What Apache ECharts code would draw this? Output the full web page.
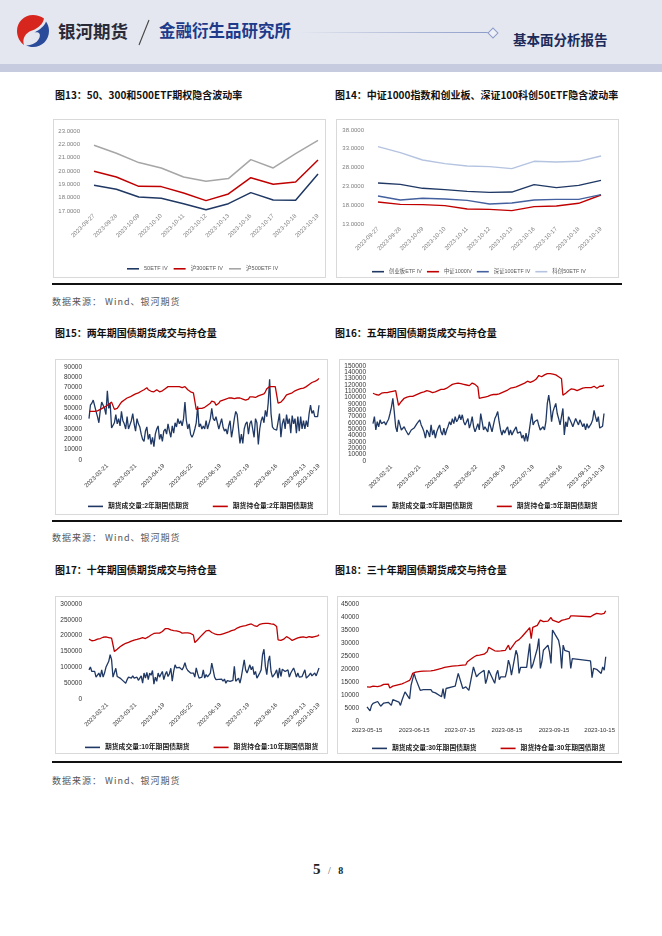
<!DOCTYPE html>
<html><head><meta charset="utf-8">
<script src="https://cdn.jsdelivr.net/npm/echarts@6.0.0/dist/echarts.min.js"></script>
<style>
body{margin:0;width:662px;height:936px;position:relative;background:#fff;overflow:hidden;font-family:'Noto Sans CJK SC',sans-serif}
.a{position:absolute;white-space:nowrap}
.title{font-size:10px;font-weight:bold;color:#111;line-height:14px;height:14px}
.box{position:absolute;border:1px solid #d9d9d9;box-sizing:border-box}
.chart{position:absolute}
.rule{position:absolute;left:52px;width:570px;height:2px;background:#111}
.src{font-size:9px;color:#555;letter-spacing:1px;line-height:12px}
</style></head>
<body>
<div class="a" style="left:0;top:0;width:662px;height:64px;background:#e4e7ef"></div>
<div class="a" style="left:0;top:64px;width:662px;height:8px;background:#c6cbe0"></div>
<svg class="a" style="left:16px;top:14px" width="34" height="34" viewBox="0 0 34 34">
 <path d="M17,1 C8,1 1,8 1,17 C1,23 4,28 8,31 C6,25 9,19 16,16.5 C22,14.5 27,10 28,4.5 C25,2.3 21,1 17,1 Z" fill="#d7261e"/>
 <path d="M30,7.5 C32,10.5 33,13.5 33,17 C33,26 26,33 17,33 C14.5,33 12,32.4 10,31.5 C17,31 22,28 23.5,23.5 C25,19 22,17.5 18.5,18.5 C24,15.5 28.5,12 30,7.5 Z" fill="#2a4a9a"/>
</svg>
<div class="a" style="left:58px;top:19px;font-size:17.5px;font-weight:bold;color:#2a2a36;line-height:24px">银河期货</div>
<svg class="a" style="left:136px;top:18px" width="16" height="30"><line x1="13" y1="2" x2="3" y2="27" stroke="#444" stroke-width="1.1"/></svg>
<div class="a" style="left:159px;top:19px;font-size:16.5px;font-weight:bold;color:#1e3a8a;line-height:22px">金融衍生品研究所</div>
<div class="a" style="left:298px;top:32px;width:191px;height:1px;background:linear-gradient(to right,rgba(150,165,205,0),#8c9bc9)"></div>
<div class="a" style="left:489px;top:29px;width:6px;height:6px;border:1px solid #8c9bc9;background:#eef0f7;transform:rotate(45deg)"></div>
<div class="a" style="left:513px;top:30px;font-size:13.5px;font-weight:bold;color:#1c2b5a;line-height:18px">基本面分析报告</div>

<div class="a title" style="left:55px;top:88px">图13：50、300和500ETF期权隐含波动率</div>
<div class="a title" style="left:335px;top:88px">图14：中证1000指数和创业板、深证100科创50ETF隐含波动率</div>
<div class="box" style="left:53px;top:119px;width:273px;height:159px"></div>
<div class="box" style="left:336px;top:119px;width:283px;height:159px"></div>
<div id="c13" class="chart" style="left:53px;top:119px;width:272px;height:158px"></div>
<div id="c14" class="chart" style="left:336px;top:119px;width:283px;height:158px"></div>
<div class="rule" style="top:283px"></div>
<div class="a src" style="left:52px;top:296px">数据来源： Wind、银河期货</div>

<div class="a title" style="left:55px;top:326px">图15：两年期国债期货成交与持仓量</div>
<div class="a title" style="left:335px;top:326px">图16：五年期国债期货成交与持仓量</div>
<div class="box" style="left:55px;top:359px;width:273px;height:156px"></div>
<div class="box" style="left:339px;top:359px;width:280px;height:156px"></div>
<div id="c15" class="chart" style="left:55px;top:359px;width:272px;height:155px"></div>
<div id="c16" class="chart" style="left:339px;top:359px;width:279px;height:155px"></div>
<div class="rule" style="top:520px"></div>
<div class="a src" style="left:52px;top:532px">数据来源： Wind、银河期货</div>

<div class="a title" style="left:55px;top:563px">图17：十年期国债期货成交与持仓量</div>
<div class="a title" style="left:335px;top:563px">图18：三十年期国债期货成交与持仓量</div>
<div class="box" style="left:55px;top:596px;width:273px;height:158px"></div>
<div class="box" style="left:337px;top:596px;width:282px;height:158px"></div>
<div id="c17" class="chart" style="left:55px;top:596px;width:272px;height:157px"></div>
<div id="c18" class="chart" style="left:337px;top:596px;width:281px;height:157px"></div>
<div class="rule" style="top:761px"></div>
<div class="a src" style="left:52px;top:775px">数据来源： Wind、银河期货</div>

<div class="a" style="left:313px;top:860px;font-family:'Liberation Serif',serif;color:#222;line-height:18px"><span style="font-size:15px;font-weight:bold">5</span><span style="font-size:10px;color:#555"> &nbsp; / &nbsp; </span><span style="font-size:10px;font-weight:bold">8</span></div>

<script>
// ---------- data ----------
const ivDates = ['2023-09-27','2023-09-28','2023-10-09','2023-10-10','2023-10-11','2023-10-12','2023-10-13','2023-10-16','2023-10-17','2023-10-18','2023-10-19'];
const iv50  = [18.93,18.63,18.05,17.95,17.55,17.10,17.55,18.38,17.83,17.80,19.78];
const iv300 = [19.98,19.55,18.85,18.83,18.35,17.78,18.28,19.50,19.00,19.18,20.83];
const iv500 = [21.93,21.33,20.63,20.23,19.55,19.23,19.43,20.85,20.23,21.30,22.30];
const ivCyb   = [23.90,23.55,22.49,22.13,21.69,21.42,21.50,23.46,22.66,23.28,24.60];
const iv1000  = [18.85,18.23,18.14,17.88,16.99,16.90,16.55,17.61,17.79,18.50,20.71];
const ivSz100 = [20.45,19.38,19.83,19.65,19.29,18.32,18.59,19.38,19.56,19.56,20.80];
const ivKc50  = [33.57,31.97,30.02,29.05,28.43,28.25,27.72,29.67,29.49,29.67,31.09];

const holidays = ['2023-04-05','2023-05-01','2023-05-02','2023-05-03','2023-06-22','2023-06-23','2023-09-29','2023-10-02','2023-10-03','2023-10-04','2023-10-05','2023-10-06'];
function tradingDays(start, end){
  const out=[]; const d=new Date(start+'T00:00:00Z'); const e=new Date(end+'T00:00:00Z');
  while(d<=e){ const wd=d.getUTCDay(); const s=d.toISOString().slice(0,10);
    if(wd!==0&&wd!==6&&holidays.indexOf(s)<0) out.push(s); d.setUTCDate(d.getUTCDate()+1); }
  return out;
}
const bondTail = ['2023-09-15','2023-09-19','2023-09-21','2023-09-25','2023-09-27','2023-10-10','2023-10-12','2023-10-16','2023-10-18','2023-10-19'];
const bondDates = tradingDays('2023-02-02','2023-09-13').concat(bondTail);
const bondTicks = ['2023-02-21','2023-03-21','2023-04-19','2023-05-22','2023-06-19','2023-07-19','2023-08-16','2023-09-13','2023-10-19'];

// values in thousands of contracts
const vol2 = [40,53,55,58,59,47,42,36,48,56,55,50,44,67,50,55,31,30,36,44,
 35,40,33,47,38,35,30,42,30,34,38,45,35,28,40,35,32,25,20,18,
 28,32,20,25,15,22,13,25,30,33,20,25,18,28,30,25,35,28,22,33,
 26,36,32,40,35,38,33,40,56,38,30,35,25,22,25,30,36,52,32,35,
 30,33,30,38,30,35,40,50,40,38,42,36,30,35,40,32,28,30,25,33,
 38,22,30,40,47,44,30,16,25,16,30,35,37,25,35,38,30,22,40,36,
 15,30,38,42,36,48,42,55,78,45,32,30,29,29,30,45,22,35,40,30,
 44,35,40,26,43,35,40,26,42,28,42,30,38,30,38,32,45,53,45,48,
 42,43,42,53];
const oi2 = [47,47.5,47,47.5,47,47,47.5,48,49,50,50.5,51,52,53,54,55,56,57,
 49,49.5,50,52,54,56,57,58,59,60,60.5,61,62,62.5,63,64,64.5,65,66,66.5,67,68,69,70,
 68,67,66.5,66,66,67,68,67,66,66,67,68,69,70,71,72,71,70,71,70,71,72,71,70,70,69,71,72,68,67,66,66,65,64,
 49,48,50,49,50,51,51,52,53,54,55,57,58,56,53,54,55,57,58,58,59,59,
 59.5,60,59.5,60,60,59.5,60,60,59.5,60,59.5,59,58.5,58,58,59,
 61,62,61,60,60.5,61,62,62,63,63,64,66,69,70,71,71,71,70.5,71,71,
 55,55.5,56,57,59,61,63,63,64,64.5,65,66,67,67.5,68,69,69,69,69.5,70,
 71,72,73,74,75,75.5,76,77,77.5,79];
const vol5 = [59,70,49,62,54,65,59,60,62,57,62,66,75,85,99,78,54,46,65,57,
 49,52,54,49,52,41,45,49,46,52,53,59,62,65,57,52,46,36,49,45,
 38,57,41,49,36,46,52,57,46,41,52,41,49,55,62,57,67,59,70,62,
 66,73,65,73,62,57,62,67,52,59,70,54,46,52,59,49,75,62,49,54,
 50,46,62,54,46,57,67,72,78,62,49,41,49,44,50,54,41,49,41,46,
 50,54,44,41,46,36,41,31,44,31,44,60,75,57,62,59,65,56,49,46,
 54,49,62,91,104,88,62,78,85,91,75,67,57,54,83,41,62,54,70,65,
 60,54,57,67,62,57,65,60,54,59,49,59,52,55,59,65,80,70,62,70,
 52,54,55,75];
const oi5 = [107,106,105,104,104,105,107,109,108,107,108,108,109,109,110,110,111,112,88,91,
 94,97,99,100,101,102,102,102,102,103,104,105,106,107,108,109,109,110,111,112,
 110,108,108,109,109,110,111,112,113,113,113,113,115,117,118,120,121,122,122,123,
 123,122,122,121,121,121,120,120,119,119,123,122,121,121,117,99,100,100,101,101,
 102,102,103,104,104,105,105,105,105,106,107,108,109,110,111,112,113,115,115,116,
 116,117,117,119,120,121,122,123,125,126,125,124,125,126,127,129,130,135,134,133,
 135,136,137,138,138,138,137,137,136,136,135,133,130,130,104,105,107,109,111,113,
 114,114,113,111,111,112,113,114,115,116,116,116,116,116,116,117,118,115,115,116,
 118,117,118,120];
const vol10 = [92,101,87,82,87,69,75,82,69,92,69,82,100,110,119,140,124,69,69,97,
 71,71,66,61,58,56,50,61,69,63,66,73,66,63,69,59,65,73,50,82,
 66,84,61,82,75,90,47,69,56,82,69,78,87,61,77,87,71,80,97,56,
 87,108,98,94,100,103,92,101,115,98,90,87,82,77,82,69,98,80,66,69,
 69,92,66,77,70,66,82,113,92,69,61,66,62,59,63,56,63,50,58,61,
 56,61,59,103,56,60,66,50,71,69,124,92,82,95,108,92,103,77,87,66,
 74,82,92,140,157,103,77,119,136,87,69,75,82,92,66,98,71,94,90,87,
 82,92,69,82,77,98,85,69,82,69,73,71,69,92,66,69,75,82,73,69,
 82,73,70,98];
const oi10 = [189,186,184,184,185,187,189,190,191,192,195,197,196,195,194,193,192,194,150,153,
 157,162,165,168,171,173,176,177,179,180,183,185,186,187,188,190,191,193,194,193,
 191,193,196,198,202,205,207,208,208,208,208,210,213,218,222,224,222,220,218,216,
 216,216,215,214,213,210,208,208,209,210,209,208,207,206,202,178,182,187,192,197,
 201,206,210,215,220,217,213,210,207,206,204,203,203,203,204,206,208,209,210,212,
 215,216,217,218,221,224,226,228,229,230,231,232,234,235,236,237,234,232,230,229,
 232,236,237,238,239,239,239,239,238,237,236,236,232,229,187,186,185,187,189,193,
 197,194,192,188,185,187,189,191,193,194,195,197,196,194,194,196,197,196,195,196,
 197,197,199,203];

const dates30 = tradingDays('2023-05-15','2023-10-19');
const ticks30 = ['2023-05-15','2023-06-15','2023-07-15','2023-08-15','2023-09-15','2023-10-15'];
const vol30 = [5.4,5.7,3.9,6.0,6.8,7.5,8.0,5.7,5.4,6.9,7.2,7.1,6.0,
 8.2,8.0,7.3,6.0,8.0,8.2,11.2,8.5,13.8,13.1,18.3,16.3,11.8,12.1,12.1,12.1,11.2,11.0,10.8,10.3,
 9.3,12.5,8.6,12.5,12.9,13.1,13.3,13.4,13.1,18.3,12.5,13.0,13.1,12.5,11.8,20.8,18.9,17.0,17.5,18.3,19.5,
 14.4,16.3,19.5,20.2,14.5,18.0,19.5,15.9,17.0,17.0,19.5,23.4,21.5,17.6,27.2,25.3,18.3,20.6,20.6,20.6,25.3,29.8,20.2,
 21.5,27.9,31.7,20.2,22.8,27.2,29.2,26.6,22.1,35.0,34.0,31.0,27.9,20.2,29.2,27.2,26.6,20.2,24.0,23.8,
 23.1,16.7,20.2,20.0,19.9,18.3,20.8,19.5,24.7];
const oi30 = [13.1,13.1,13.0,13.2,13.4,13.2,13.1,13.5,13.8,14.1,14.2,12.7,13.2,
 13.4,13.6,14.0,14.1,14.3,14.4,14.8,15.6,16.7,18.3,18.5,18.8,19.1,19.2,19.2,19.3,19.4,19.5,19.7,19.8,
 20.2,20.4,20.6,20.7,20.8,21.1,21.1,21.2,21.2,21.3,21.5,21.6,21.6,22.8,23.2,24.5,24.9,25.2,25.3,25.3,25.7,
 26.0,26.6,28.3,27.9,27.0,26.9,26.9,27.0,27.0,27.2,27.2,29.2,27.4,28.0,30.6,31.0,31.3,32.0,32.5,34.5,35.2,35.9,31.7,
 36.0,36.8,37.3,38.8,38.5,38.2,38.4,38.2,39.8,38.8,38.5,37.9,38.6,38.7,38.8,39.0,39.5,40.4,40.4,40.4,
 40.1,40.2,40.8,41.4,41.4,41.1,41.2,41.4,42.4];

// ---------- charts ----------
const F = "'Liberation Sans','Noto Sans CJK SC',sans-serif";
const NAVY='#1f3864', RED='#c00000';
function line(name, data, color, w){ return {name, type:'line', data, symbol:'none', lineStyle:{color, width:w||1.3}, itemStyle:{color}, animation:false}; }

function ivOption(grid, legendPos, ymin, ymax, yint, series, lg){
  return {
    animation:false,
    grid,
    legend:Object.assign({icon:'rect', itemWidth:lg.iw, itemHeight:1.6, itemGap:lg.gap, width:400, textStyle:{fontSize:lg.fs, color:'#595959', fontFamily:F}}, legendPos),
    xAxis:{type:'category', data:ivDates, boundaryGap:false, axisLine:{show:false}, axisTick:{show:false},
      axisLabel:{rotate:45, fontSize:6, color:'#7f7f7f', margin:4, interval:0, fontFamily:F}},
    yAxis:{type:'value', min:ymin, max:ymax, interval:yint, splitLine:{show:false}, axisLine:{show:false}, axisTick:{show:false},
      axisLabel:{formatter:v=>v.toFixed(4), fontSize:6, color:'#7f7f7f', margin:14, fontFamily:F}},
    series
  };
}
echarts.init(document.getElementById('c13')).setOption(ivOption(
  {left:41, right:7, top:12, bottom:66}, {left:69, top:142}, 17, 23, 1,
  [line('50ETF IV', iv50, NAVY, 1.5), line('沪300ETF IV', iv300, RED, 1.5), line('沪500ETF IV', iv500, '#a6a6a6', 1.5)],
  {iw:12, gap:6, fs:5.6}));
echarts.init(document.getElementById('c14')).setOption(ivOption(
  {left:42, right:18, top:11, bottom:53}, {left:31, top:145}, 13, 38, 5,
  [line('创业板ETF IV', ivCyb, NAVY, 1.4), line('中证1000IV', iv1000, RED, 1.4), line('深证100ETF IV', ivSz100, '#44609e', 1.4), line('科创50ETF IV', ivKc50, '#b4c3e0', 1.4)],
  {iw:12, gap:5, fs:5.4}));

function bondOption(grid, legendPos, ymax, yint, volName, oiName, vol, oi){
  return {
    animation:false,
    grid,
    legend:Object.assign({icon:'rect', itemWidth:15, itemHeight:1.6, itemGap:24, width:400, textStyle:{fontSize:6.8, color:'#222', fontWeight:'bold', fontFamily:F}}, legendPos),
    xAxis:{type:'category', data:bondDates, boundaryGap:false, axisLine:{show:false}, axisTick:{show:false},
      axisLabel:{rotate:45, fontSize:6, color:'#333', margin:5, fontFamily:F, interval:(i,v)=>bondTicks.indexOf(v)>=0}},
    yAxis:{type:'value', min:0, max:ymax, interval:yint, splitLine:{show:false}, axisLine:{show:false}, axisTick:{show:false},
      axisLabel:{fontSize:6.5, color:'#333', margin:7, fontFamily:F, formatter:v=>String(v)}},
    series:[line(volName, vol.map(v=>v*1000), NAVY, 1.3), line(oiName, oi.map(v=>v*1000), RED, 1.3)]
  };
}
echarts.init(document.getElementById('c15')).setOption(bondOption(
  {left:34, right:8, top:8, bottom:54}, {left:28, top:139}, 90000, 10000,
  '期货成交量:2年期国债期货', '期货持仓量:2年期国债期货', vol2, oi2));
echarts.init(document.getElementById('c16')).setOption(bondOption(
  {left:34, right:14, top:7, bottom:53}, {left:28, top:139}, 150000, 10000,
  '期货成交量:5年期国债期货', '期货持仓量:5年期国债期货', vol5, oi5));
echarts.init(document.getElementById('c17')).setOption(bondOption(
  {left:34, right:8, top:8, bottom:54}, {left:25, top:143}, 300000, 50000,
  '期货成交量:10年期国债期货', '期货持仓量:10年期国债期货', vol10, oi10));

function ts(s){ const p=s.split('-'); return new Date(+p[0], +p[1]-1, +p[2]).getTime(); }
function fmtDate(v){ const d=new Date(v); const m=d.getMonth()+1, dd=d.getDate(); return d.getFullYear()+'-'+(m<10?'0':'')+m+'-'+(dd<10?'0':'')+dd; }
echarts.init(document.getElementById('c18')).setOption({
  animation:false,
  grid:{left:30, right:5, top:8, bottom:32},
  legend:{left:30, top:144, icon:'rect', itemWidth:15, itemHeight:1.6, itemGap:24, width:400, textStyle:{fontSize:6.8, color:'#222', fontWeight:'bold', fontFamily:F}},
  xAxis:{type:'value', min:ts('2023-05-15'), max:ts('2023-10-22'), splitLine:{show:false}, axisLine:{show:false}, axisTick:{show:false},
    axisLabel:{fontSize:6, color:'#333', margin:6, fontFamily:F,
      customValues:ticks30.map(ts), formatter:v=>fmtDate(v)}},
  yAxis:{type:'value', min:0, max:45000, interval:5000, splitLine:{show:false}, axisLine:{show:false}, axisTick:{show:false},
    axisLabel:{fontSize:6.5, color:'#333', margin:8, fontFamily:F, formatter:v=>String(v)}},
  series:[line('期货成交量:30年期国债期货', dates30.map((d,i)=>[ts(d), vol30[i]*1000]), NAVY, 1.3),
          line('期货持仓量:30年期国债期货', dates30.map((d,i)=>[ts(d), oi30[i]*1000]), RED, 1.3)]
});
</script>
</body></html>
